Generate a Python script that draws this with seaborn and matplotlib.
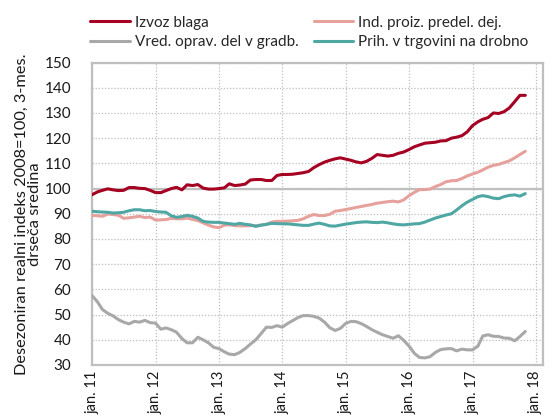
import pandas as pd
import numpy as np
import matplotlib
matplotlib.use("Agg")
import matplotlib.pyplot as plt
import seaborn as sns

# ===============================
# DATA (monthly, jan 2011 - nov 2017)
# ===============================
dates = pd.date_range("2011-01-01", periods=83, freq="MS")

izvoz = [97.6, 98.7, 99.3, 99.9, 99.5, 99.2, 99.3, 100.4, 100.4, 100.1, 100.0, 99.3,
         98.4, 98.4, 99.2, 100.0, 100.5, 99.5, 101.5, 101.2, 101.6, 100.2, 99.8, 99.8,
         100.0, 100.3, 101.9, 101.2, 101.4, 101.8, 103.4, 103.6, 103.6, 103.2, 103.2, 105.2,
         105.6, 105.6, 105.7, 106.0, 106.3, 106.8, 108.3, 109.5, 110.5, 111.2, 111.8, 112.2,
         111.7, 111.2, 110.6, 110.2, 110.8, 112.0, 113.5, 113.2, 112.9, 113.2, 114.0, 114.5,
         115.5, 116.6, 117.3, 118.0, 118.2, 118.4, 118.9, 119.0, 120.0, 120.4, 121.0, 122.5,
         125.0, 126.5, 127.5, 128.2, 130.0, 129.8, 130.5, 132.0, 134.5, 137.0, 137.0]

ind_proiz = [89.4, 89.2, 89.0, 89.9, 89.7, 89.4, 88.2, 88.4, 88.7, 89.0, 88.5, 88.7,
             87.5, 87.6, 87.7, 88.2, 88.0, 88.0, 88.3, 87.8, 87.3, 86.4, 85.5, 84.8,
             84.5, 85.5, 85.6, 85.3, 85.2, 85.2, 85.3, 85.3, 85.5, 85.8, 86.7, 87.0,
             87.0, 87.1, 87.2, 87.4, 88.0, 89.0, 89.7, 89.3, 89.3, 89.8, 91.0, 91.3,
             91.7, 92.1, 92.5, 92.9, 93.3, 93.7, 94.2, 94.5, 94.8, 95.0, 94.7, 95.5,
             97.2, 98.5, 99.6, 99.6, 99.8, 100.8, 101.6, 102.7, 103.1, 103.2, 104.0, 105.0,
             105.8, 106.5, 107.4, 108.5, 109.2, 109.6, 110.3, 111.0, 112.2, 113.5, 114.8]

gradb = [57.5, 55.0, 52.0, 50.5, 49.5, 48.0, 47.0, 46.3, 47.3, 47.0, 47.7, 46.8,
         46.6, 44.2, 44.7, 44.0, 43.0, 40.5, 38.8, 38.8, 41.0, 40.0, 38.8, 37.0,
         36.5, 35.2, 34.3, 34.1, 35.0, 36.5, 38.3, 40.0, 42.5, 45.0, 44.9, 45.6,
         45.0, 46.5, 47.6, 48.8, 49.6, 49.6, 49.3, 48.6, 47.0, 44.8, 43.7, 44.5,
         46.5, 47.3, 47.2, 46.4, 45.3, 44.0, 43.0, 42.0, 41.3, 40.6, 41.6, 39.8,
         37.5, 34.6, 33.0, 32.8, 33.3, 35.0, 36.1, 36.4, 36.5, 35.6, 36.3, 36.0,
         36.0, 37.5, 41.5, 42.0, 41.4, 41.3, 40.7, 40.6, 39.6, 41.3, 43.3]

trgovina = [91.0, 90.8, 90.7, 90.6, 90.3, 90.4, 90.6, 91.2, 91.6, 91.6, 91.2, 91.3,
            90.9, 90.7, 90.6, 89.2, 88.6, 88.9, 89.4, 89.0, 88.3, 87.0, 86.7, 86.6,
            86.6, 86.3, 86.1, 85.8, 86.2, 85.8, 85.6, 85.0, 85.5, 85.8, 86.2, 86.1,
            86.0, 86.0, 85.8, 85.6, 85.4, 85.4, 85.9, 86.3, 85.8, 85.2, 85.1, 85.5,
            85.9, 86.2, 86.5, 86.7, 86.8, 86.6, 86.5, 86.7, 86.4, 86.0, 85.7, 85.6,
            85.8, 86.0, 86.1, 86.7, 87.5, 88.3, 88.9, 89.5, 90.0, 91.5, 93.2, 94.6,
            95.7, 96.8, 97.2, 96.8, 96.2, 96.0, 96.8, 97.3, 97.5, 97.0, 98.0]

SERIES = ["Izvoz blaga", "Ind. proiz. predel. dej.",
          "Vred. oprav. del v gradb.", "Prih. v trgovini na drobno"]
COLORS = ["#A50021", "#E6A19C", "#A8A8A8", "#4FA7A4"]

df = pd.DataFrame({"datum": dates,
                   SERIES[0]: izvoz, SERIES[1]: ind_proiz,
                   SERIES[2]: gradb, SERIES[3]: trgovina})
long_df = df.melt(id_vars="datum", var_name="serija", value_name="indeks")

# ===============================
# PLOT
# ===============================
sns.set_style("white")
plt.rcParams["font.family"] = ["Lato", "DejaVu Sans"]

fig = plt.figure(figsize=(5.52, 4.2), dpi=100)
ax = fig.add_axes([0.167, 0.131, 0.817, 0.72])

ax.axhline(100, color="#BFBFBF", lw=1.6, zorder=1)
sns.lineplot(data=long_df, x="datum", y="indeks", hue="serija",
             hue_order=SERIES, palette=COLORS, linewidth=2.2, ax=ax, zorder=3)

ax.set_ylim(30, 150)
ax.set_yticks(np.arange(30, 151, 10))
ax.set_xlim(pd.Timestamp("2011-01-01"), pd.Timestamp("2018-02-12"))
ticks = pd.date_range("2011-01-01", "2018-01-01", freq="YS")
ax.set_xticks(ticks)
ax.set_xticklabels([f"jan. {d.year % 100}" for d in ticks], rotation=90)
ax.grid(True, color="#BDBDBD", linestyle=(0, (1, 1.5)), linewidth=0.9)
ax.set_axisbelow(True)

for s in ax.spines.values():
    s.set_color("#BFBFBF")
    s.set_linewidth(1.6)
ax.tick_params(axis="both", labelsize=11, colors="#1A1A1A", length=0)
ax.tick_params(axis="y", pad=15)
ax.tick_params(axis="x", pad=4, labelsize=10.5)
ax.set_xlabel("")
ax.set_ylabel("Desezoniran realni indeks 2008=100, 3-mes.\ndrseča sredina",
              fontsize=11.8, color="#1A1A1A", linespacing=0.95, labelpad=2)

# legend: two columns above the plot
handles, labels = ax.get_legend_handles_labels()
order = [0, 2, 1, 3]
ax.legend([handles[i] for i in order], [labels[i] for i in order],
          ncol=2, frameon=False, fontsize=11, loc="lower left",
          bbox_to_anchor=(-0.028, 1.01), handlelength=2.6, handletextpad=0.3,
          columnspacing=1.0, labelspacing=0.35, borderaxespad=0.3)

fig.savefig("out.png", dpi=100)
